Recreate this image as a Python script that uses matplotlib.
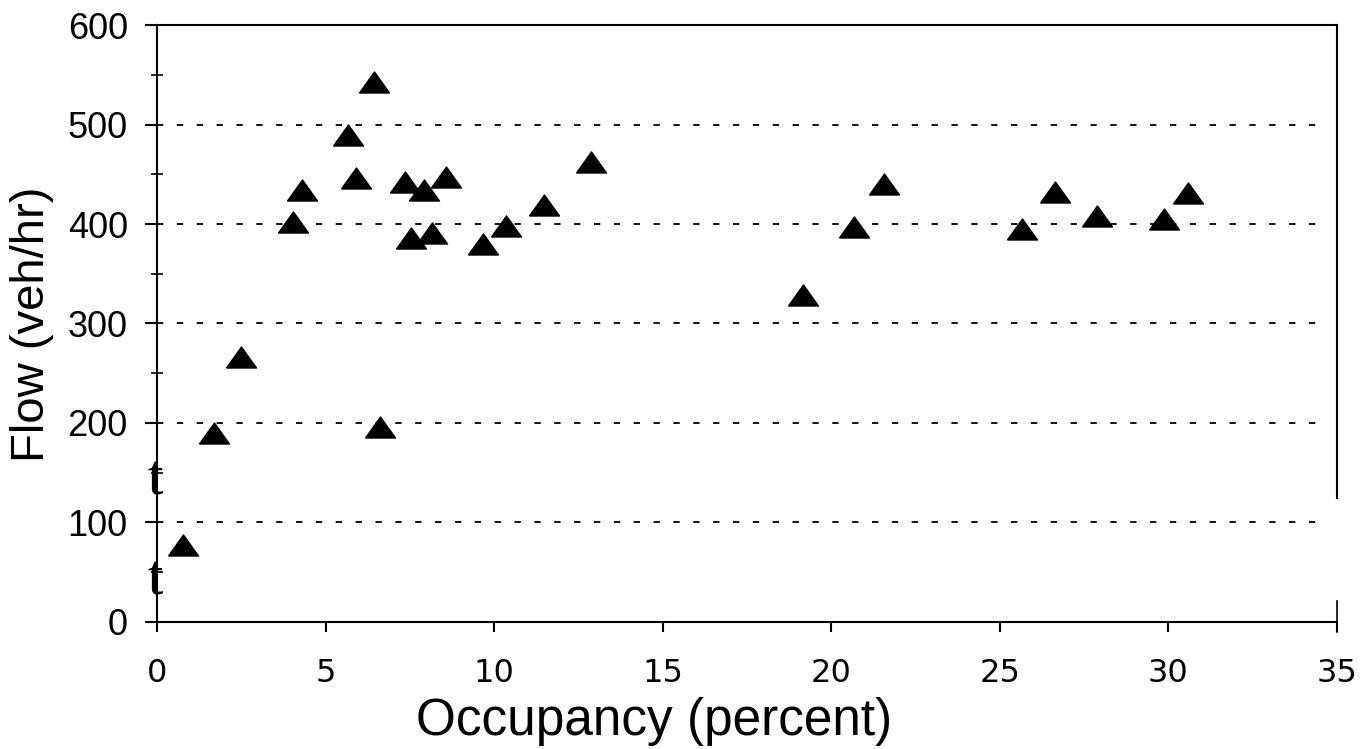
import matplotlib.pyplot as plt
from matplotlib.ticker import MultipleLocator

occupancy = [0.77, 1.69, 2.49, 4.03, 4.30, 5.67, 6.44, 5.90, 6.62, 7.36, 7.53, 7.92, 8.16,
             8.57, 9.67, 10.35, 11.48, 12.87, 19.16, 20.68, 21.57, 25.66, 26.64, 27.89,
             29.87, 30.58]
flow = [77, 190, 266, 402, 434, 489, 543, 446, 196, 442, 386, 434, 391,
        447, 380, 398, 419, 462, 329, 397, 440, 395, 432, 408, 405, 431]
x_ticks = [0, 5, 10, 15, 20, 25, 30, 35]
y_ticks = [0, 100, 200, 300, 400, 500, 600]

fig = plt.figure(figsize=(13.69, 7.49), dpi=100)
ax = fig.add_axes([0.1147, 0.1696, 0.8619, 0.797])

# wide, flat triangle like the scanned markers
tri = [(-1, -0.7), (1, -0.7), (0, 0.7), (-1, -0.7)]
ax.plot(occupancy, flow, linestyle='none', marker=tri, markersize=21.6,
        color='black', zorder=3)

# dotted grid lines that stop short of the right edge
for yv in y_ticks[1:-1]:
    ax.hlines(yv, 0, 34.5, colors='black', linestyles=(0, (3.5, 7.5)), linewidth=1.3, zorder=1)

ax.set_xlim(0, 35)
ax.set_ylim(0, 600)
ax.set_xticks(x_ticks)
ax.set_yticks(y_ticks)
ax.yaxis.set_minor_locator(MultipleLocator(50))

for s in ax.spines.values():
    s.set_linewidth(1.5)
ax.spines['right'].set_bounds(125, 600)
ax.axvline(35, ymin=-0.017, ymax=0.035, color='black', linewidth=1.2, clip_on=False)

ax.tick_params(axis='y', which='major', direction='out', length=9, width=1.5, pad=12,
               labelsize=26, right=False)
ax.tick_params(axis='y', which='minor', direction='inout', length=9, width=1.2, right=False)
ax.tick_params(axis='x', which='major', direction='out', length=7, width=1.5, pad=19,
               labelsize=23, top=False)
for lab in ax.get_yticklabels():
    lab.set_family('Liberation Sans')
for lab in ax.get_xticklabels():
    lab.set_family('DejaVu Sans')

ax.set_xlabel('Occupancy (percent)', fontsize=37, family='Liberation Sans')
ax.xaxis.set_label_coords(0.421, -0.125)
ax.set_ylabel('Flow (veh/hr)', fontsize=34, family='Liberation Sans')
ax.yaxis.set_label_coords(-0.087, 0.498)

# stray scan marks beside the y axis
ax.text(-0.06, 142, 't', fontsize=40, family='Liberation Serif', ha='center', va='center')
ax.text(-0.06, 42, 't', fontsize=40, family='Liberation Serif', ha='center', va='center')

fig.savefig('out.png', dpi=100)
